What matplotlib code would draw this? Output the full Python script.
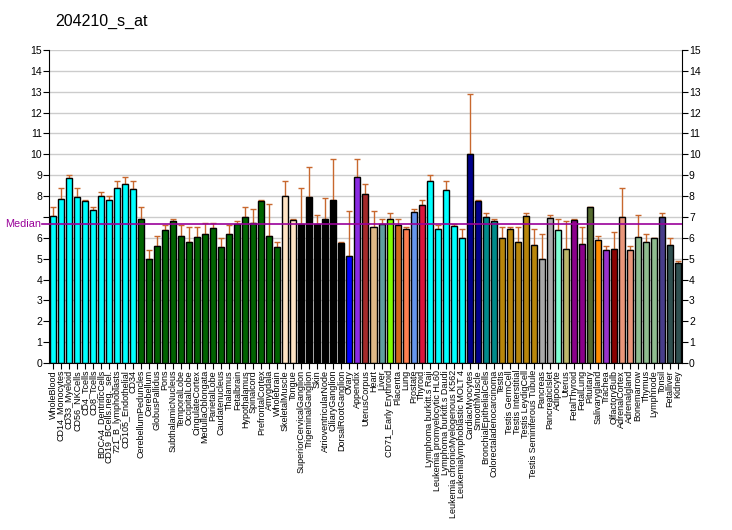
import matplotlib
matplotlib.use("Agg")
import matplotlib.pyplot as plt
import numpy as np

plt.rcParams["font.family"] = ["Liberation Sans", "DejaVu Sans"]

TITLE = "204210_s_at"
MEDIAN = 6.65

labels = [
    "WholeBlood", "CD14_Monocytes", "CD33_Myeloid", "CD56_NKCells", "CD4_Tcells",
    "CD8_Tcells", "BDCA4_DentriticCells", "CD19_BCells.neg._sel.", "721_B_lymphoblasts",
    "CD105_Endothelial", "CD34", "CerebellumPeduncles", "Cerebellum", "GlobusPallidus",
    "Pons", "SubthalamicNucleus", "TemporalLobe", "OccipitalLobe", "CingulateCortex",
    "MedullaOblongata", "ParietalLobe", "Caudatenucleus", "Thalamus", "Fetalbrain",
    "Hypothalamus", "Spinalcord", "PrefrontalCortex", "Amygdala", "Wholebrain",
    "SkeletalMuscle", "Tongue", "SuperiorCervicalGanglion", "TrigeminalGanglion", "Skin",
    "AtrioventricularNode", "CiliaryGanglion", "DorsalRootGanglion", "Ovary", "Appendix",
    "UterusCorpus", "Heart", "Liver", "CD71_Early Erythroid", "Placenta", "Lung",
    "Prostate", "Thyroid", "Lymphoma burkitt.s Raji", "Leukemia promyelocytic HL60",
    "Lymphoma burkitt.s Daudi", "Leukemia chronicMyelogenous K562",
    "Leukemialymphoblastic MOLT 4", "CardiacMyocytes", "SmoothMuscle",
    "BronchialEpithelialCells", "Colorectaladenocarcinoma", "Testis", "Testis GermCell",
    "Testis Interstitial", "Testis LeydigCell", "Testis Seminiferous Tubule", "Pancreas",
    "PancreaticIslet", "Adipocyte", "Uterus", "FetalThyroid", "FetalLung", "Pituitary",
    "Salivarygland", "Trachea", "OlfactoryBulb", "AdrenalCortex", "Adrenalgland",
    "Bonemarrow", "Thymus", "Lymphnode", "Tonsil", "Fetalliver", "Kidney",
]

values = [
    7.03, 7.85, 8.85, 7.94, 7.75, 7.32, 7.99, 7.80, 8.37, 8.56, 8.33,
    6.89, 4.98, 5.60, 6.36, 6.79, 6.08, 5.79, 6.03, 6.17, 6.46, 5.55, 6.17, 6.65,
    6.98, 6.70, 7.75, 6.08, 5.55,
    7.99, 6.84,
    6.65, 7.94, 6.65, 6.89, 7.80, 5.74,
    5.12, 8.90, 8.09, 6.50, 6.65, 6.89, 6.60, 6.41, 7.22, 7.56,
    8.71, 6.41, 8.28, 6.55, 5.98,
    10.00, 7.75, 6.98, 6.79,
    5.98, 6.41, 5.79, 7.03, 5.65,
    4.98, 6.94, 6.36, 5.45, 6.84, 5.69, 7.46, 5.89, 5.41, 5.45, 6.98, 5.41,
    6.03, 5.79, 5.98, 6.98, 5.65, 4.78,
]

err_top = [
    7.46, 8.37, 9.01, 8.37, 7.80, 7.46, 8.18, 7.99, 8.71, 8.90, 8.71,
    7.46, 5.41, 6.08, 6.60, 6.89, 6.60, 6.50, 6.50, 6.70, 6.70, 5.98, 6.60, 6.79,
    7.46, 7.37, 7.80, 7.61, 5.79,
    8.71, 6.89,
    8.37, 9.38, 7.08, 7.89, 9.76, 5.79,
    7.27, 9.76, 8.56, 7.27, 6.89, 7.18, 6.89, 6.50, 7.37, 7.80,
    9.00, 6.60, 8.71, 6.65, 6.41,
    12.87, 7.80, 7.18, 6.89,
    6.50, 6.50, 6.50, 7.18, 6.41,
    6.17, 7.08, 6.89, 6.79, 6.89, 6.50, 7.46, 6.08, 5.60, 6.27, 8.37, 5.60,
    7.08, 6.17, 5.98, 7.18, 5.98, 4.88,
]

colors = (
    ["#00FFFF"] * 11 + ["#006400"] * 18 + ["#FFE4C4"] * 2 + ["#000000"] * 6
    + ["#0000FF", "#8A2BE2", "#A52A2A", "#DEB887", "#5F9EA0", "#7FFF00",
       "#D2691E", "#FF7F50", "#6495ED", "#DC143C"]
    + ["#00FFFF"] * 5 + ["#00008B"] * 2 + ["#008B8B"] * 2 + ["#B8860B"] * 5
    + ["#A9A9A9"] * 2
    + ["#7FFFD4", "#BDB76B", "#8B008B", "#8B008B", "#556B2F", "#FF8C00",
       "#9932CC", "#8B0000", "#E9967A", "#E9967A"]
    + ["#8FBC8F"] * 3 + ["#483D8B"] + ["#2F4F4F"] * 2
)

x = np.arange(1, len(values) + 1)
vals = np.array(values)
errs = np.array(err_top) - vals

fig = plt.figure(figsize=(7.32, 5.30), dpi=100)
ax = fig.add_axes([0.0669, 0.315, 0.8648, 0.5907])

for yv in range(1, 16):
    ax.axhline(yv, color="#CCCCCC", lw=1, zorder=0)

ax.errorbar(x, vals, yerr=[np.zeros_like(errs), errs], fmt="none",
            ecolor="#C8682E", elinewidth=1, capsize=2.5, capthick=1, zorder=1)
ax.bar(x, vals, width=0.75, color=colors, edgecolor="black", linewidth=1, zorder=2)
ax.axhline(MEDIAN, color="#990099", lw=1.2, zorder=3)
# short tick from the Median label to the axis
ax.plot([-0.011, 0], [MEDIAN, MEDIAN], transform=ax.get_yaxis_transform(),
        color="#990099", lw=1.2, clip_on=False)

ax.set_xlim(0.5, len(values) + 0.5)
ax.set_ylim(0, 15)
ax.set_yticks(range(0, 16))
ax.tick_params(axis="y", labelsize=7.5, length=4, right=True, labelright=True, pad=1)
# the Median label covers the left "7" in the reference
ax.yaxis.get_major_ticks()[7].label1.set_visible(False)
ax.set_xticks(x)
ax.set_xticklabels(labels, rotation=90, fontsize=6.5)
ax.tick_params(axis="x", length=4, pad=1)
ax.spines["top"].set_visible(False)

ax.text(-0.012, MEDIAN, "Median", transform=ax.get_yaxis_transform(),
        ha="right", va="center", fontsize=7.8, color="#990099")
fig.text(0.075, 0.96, TITLE, fontsize=11.5, ha="left", va="center")

fig.savefig("out.png", dpi=100)
